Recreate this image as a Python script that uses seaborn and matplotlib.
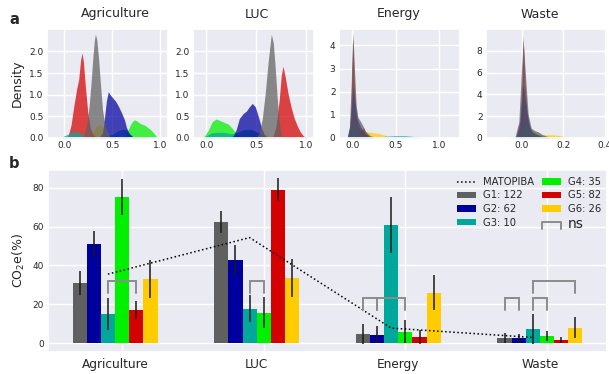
import numpy as np
import pandas as pd
import matplotlib
matplotlib.use("Agg")
import matplotlib.pyplot as plt
import matplotlib.transforms as mtransforms
from matplotlib.lines import Line2D
from matplotlib.legend_handler import HandlerBase
import seaborn as sns

# ---------------- data ----------------
sectors = ["Agriculture", "LUC", "Energy", "Waste"]
groups = ["G1", "G2", "G3", "G4", "G5", "G6"]
group_n = [122, 62, 10, 35, 82, 26]
group_colors = ["#606060", "#00009e", "#00a89c", "#00f000", "#d50000", "#ffcc00"]

# mean CO2e share (%) per sector for each group
g1_mean = [31.0, 62.4, 4.8, 2.7]
g2_mean = [51.0, 42.8, 4.3, 2.4]
g3_mean = [15.0, 17.6, 60.8, 7.3]
g4_mean = [75.2, 15.6, 5.8, 3.8]
g5_mean = [17.1, 79.0, 3.2, 1.7]
g6_mean = [33.0, 33.6, 26.0, 7.9]
# error half-widths
g1_err = [6.0, 5.6, 5.2, 2.6]
g2_err = [6.6, 7.9, 4.4, 2.4]
g3_err = [8.3, 6.9, 14.3, 7.7]
g4_err = [9.3, 8.0, 6.0, 2.6]
g5_err = [4.7, 5.9, 3.7, 1.6]
g6_err = [10.0, 9.9, 8.8, 5.3]
matopiba = [35.5, 54.3, 7.7, 2.9]

# "ns" brackets: sector index, group a, group b, top value
br_sector = [0, 1, 2, 2, 3, 3, 3]
br_a = ["G3", "G3", "G1", "G2", "G1", "G3", "G3"]
br_b = ["G5", "G4", "G2", "G4", "G2", "G4", "G6"]
br_top = [32, 32, 23, 23, 23, 23, 32]

# density curves (x, density)
agri_G1 = [(0.18, 0), (0.21, 0.08), (0.24, 0.38), (0.26, 0.75), (0.28, 1.28), (0.30, 1.9), (0.315, 2.27),
           (0.325, 2.4), (0.34, 2.28), (0.36, 1.8), (0.38, 1.2), (0.40, 0.65), (0.43, 0.25), (0.47, 0.05), (0.5, 0)]
agri_G2 = [(0.36, 0), (0.40, 0.12), (0.42, 0.45), (0.44, 0.85), (0.46, 1.07), (0.48, 1.0), (0.51, 0.92),
           (0.54, 0.84), (0.57, 0.72), (0.60, 0.58), (0.63, 0.42), (0.65, 0.25), (0.68, 0.1), (0.72, 0.02), (0.75, 0)]
agri_G3 = [(-0.1, 0), (-0.03, 0.02), (0.03, 0.08), (0.08, 0.14), (0.12, 0.16), (0.16, 0.12), (0.2, 0.07),
           (0.25, 0.04), (0.3, 0.03), (0.4, 0.03), (0.5, 0.08), (0.55, 0.15), (0.6, 0.2), (0.64, 0.2),
           (0.68, 0.12), (0.72, 0.03), (0.78, 0)]
agri_G4 = [(0.58, 0), (0.63, 0.04), (0.66, 0.15), (0.69, 0.3), (0.72, 0.4), (0.74, 0.42), (0.77, 0.38),
           (0.80, 0.33), (0.84, 0.3), (0.87, 0.25), (0.90, 0.2), (0.93, 0.13), (0.96, 0.05), (0.99, 0)]
agri_G5 = [(0.0, 0), (0.04, 0.05), (0.07, 0.3), (0.1, 0.75), (0.13, 1.15), (0.15, 1.35), (0.17, 1.8),
           (0.186, 1.97), (0.2, 1.75), (0.22, 1.2), (0.245, 0.6), (0.27, 0.25), (0.3, 0.08), (0.34, 0)]
agri_G6 = [(0.2, 0), (0.26, 0.05), (0.3, 0.15), (0.34, 0.28), (0.37, 0.33), (0.4, 0.25), (0.43, 0.1),
           (0.47, 0.02), (0.5, 0)]

luc_G1 = [(0.50, 0), (0.53, 0.12), (0.56, 0.45), (0.59, 1.05), (0.62, 1.8), (0.65, 2.4), (0.67, 2.2),
          (0.69, 1.6), (0.71, 0.9), (0.73, 0.35), (0.75, 0.08), (0.78, 0)]
luc_G2 = [(0.22, 0), (0.27, 0.05), (0.30, 0.2), (0.33, 0.45), (0.37, 0.57), (0.40, 0.62), (0.43, 0.72),
          (0.46, 0.8), (0.49, 0.72), (0.52, 0.5), (0.55, 0.25), (0.58, 0.08), (0.62, 0)]
luc_G3 = [(-0.05, 0), (0.0, 0.05), (0.05, 0.12), (0.1, 0.13), (0.18, 0.13), (0.25, 0.1), (0.3, 0.12),
          (0.38, 0.2), (0.45, 0.2), (0.52, 0.12), (0.58, 0.03), (0.62, 0)]
luc_G4 = [(-0.06, 0), (-0.02, 0.04), (0.02, 0.18), (0.06, 0.38), (0.1, 0.44), (0.14, 0.4), (0.18, 0.36),
          (0.22, 0.32), (0.26, 0.22), (0.3, 0.1), (0.34, 0.03), (0.38, 0)]
luc_G5 = [(0.62, 0), (0.67, 0.05), (0.70, 0.3), (0.73, 0.9), (0.75, 1.45), (0.767, 1.66), (0.79, 1.4),
          (0.82, 1.0), (0.85, 0.7), (0.88, 0.45), (0.91, 0.28), (0.94, 0.14), (0.97, 0.05), (1.0, 0)]
luc_G6 = [(0.2, 0), (0.28, 0.05), (0.35, 0.12), (0.45, 0.15), (0.55, 0.12), (0.62, 0.06), (0.7, 0)]

energy_G1 = [(-0.06, 0), (-0.035, 0.3), (-0.015, 2.0), (0.0, 4.0), (0.008, 4.5), (0.025, 3.0), (0.045, 1.4),
             (0.065, 0.9), (0.09, 0.75), (0.12, 0.55), (0.15, 0.3), (0.2, 0.12), (0.25, 0.04), (0.3, 0)]
energy_G2 = [(-0.06, 0), (-0.03, 0.5), (0.0, 1.8), (0.01, 2.2), (0.03, 1.6), (0.06, 0.8), (0.1, 0.45),
             (0.15, 0.2), (0.2, 0.05), (0.25, 0)]
energy_G3 = [(0.1, 0), (0.2, 0.03), (0.3, 0.05), (0.4, 0.08), (0.5, 0.1), (0.6, 0.1), (0.7, 0.07),
             (0.8, 0.03), (0.9, 0.01), (0.95, 0)]
energy_G4 = [(-0.08, 0), (-0.04, 0.1), (0.0, 0.6), (0.03, 0.6), (0.06, 0.3), (0.1, 0.15), (0.15, 0.08), (0.2, 0)]
energy_G5 = [(-0.05, 0), (-0.02, 0.6), (-0.005, 3.0), (0.008, 4.3), (0.022, 2.5), (0.04, 1.0), (0.07, 0.5),
             (0.1, 0.3), (0.13, 0.45), (0.16, 0.2), (0.2, 0.05), (0.25, 0)]
energy_G6 = [(-0.05, 0), (0.0, 0.4), (0.05, 0.5), (0.1, 0.35), (0.15, 0.28), (0.2, 0.25), (0.25, 0.22),
             (0.3, 0.2), (0.35, 0.15), (0.4, 0.08), (0.45, 0.03), (0.5, 0)]

waste_G1 = [(-0.035, 0), (-0.015, 1.5), (-0.003, 6.0), (0.006, 9.0), (0.018, 5.5), (0.03, 2.2),
            (0.045, 0.9), (0.06, 0.7), (0.08, 0.55), (0.1, 0.3), (0.13, 0.1), (0.16, 0)]
waste_G2 = [(-0.03, 0), (-0.01, 1.5), (0.005, 4.9), (0.02, 3.0), (0.035, 1.2), (0.05, 0.5), (0.07, 0.3),
            (0.1, 0.1), (0.13, 0)]
waste_G3 = [(-0.08, 0), (-0.05, 0.05), (0.0, 0.3), (0.03, 0.4), (0.06, 0.2), (0.1, 0.1), (0.15, 0.03), (0.2, 0)]
waste_G4 = [(-0.02, 0), (0.0, 0.5), (0.02, 1.5), (0.035, 1.0), (0.05, 0.6), (0.07, 0.4), (0.1, 0.2),
            (0.13, 0.05), (0.15, 0)]
waste_G5 = [(-0.03, 0), (-0.01, 1.0), (0.0, 5.0), (0.006, 9.35), (0.015, 5.0), (0.025, 2.0), (0.04, 0.8),
            (0.06, 0.5), (0.08, 0.3), (0.1, 0.1), (0.12, 0)]
waste_G6 = [(-0.02, 0), (0.02, 0.3), (0.06, 0.3), (0.1, 0.3), (0.14, 0.3), (0.18, 0.25), (0.21, 0.1), (0.23, 0)]

panel_xticks = [[0.0, 0.5, 1.0], [0.0, 0.5, 1.0], [0.0, 0.5, 1.0], [0.0, 0.2, 0.4]]
panel_yticks = [[0.0, 0.5, 1.0, 1.5, 2.0], [0.0, 0.5, 1.0, 1.5, 2.0], [0, 1, 2, 3, 4], [0, 2, 4, 6, 8]]

# ---------------- style ----------------
sns.set_theme(style="darkgrid")
plt.rcParams["font.family"] = ["DejaVu Sans", "Noto Sans"]
plt.rcParams["grid.linewidth"] = 1.0

W, H = 609, 374
fig = plt.figure(figsize=(W / 100, H / 100), dpi=100)


def rect(l, t, r, b):
    return [l / W, 1 - b / H, (r - l) / W, (b - t) / H]


top_boxes = [(47, 29, 167.5, 138), (193, 29, 314, 138), (339, 29, 460, 138), (486, 29, 607, 138)]
top_xlims = [(-0.182, 1.081), (-0.133, 1.077), (-0.153, 1.242), (-0.174, 0.412)]
top_ylims = [(0, 2.52), (0, 2.52), (0, 4.71), (0, 10.0)]
panel_curves = [
    [agri_G1, agri_G2, agri_G3, agri_G4, agri_G5, agri_G6],
    [luc_G1, luc_G2, luc_G3, luc_G4, luc_G5, luc_G6],
    [energy_G1, energy_G2, energy_G3, energy_G4, energy_G5, energy_G6],
    [waste_G1, waste_G2, waste_G3, waste_G4, waste_G5, waste_G6],
]

for k in range(4):
    ax = fig.add_axes(rect(*top_boxes[k]))
    # draw last group first so that G1 ends on top
    for curve, col in list(zip(panel_curves[k], group_colors))[::-1]:
        xs = [p[0] for p in curve]
        ys = [p[1] for p in curve]
        ax.fill_between(xs, 0, ys, color=col, alpha=0.72, linewidth=0)
    ax.set_xlim(*top_xlims[k])
    ax.set_ylim(*top_ylims[k])
    ax.set_xticks(panel_xticks[k])
    ax.set_yticks(panel_yticks[k])
    ax.tick_params(labelsize=6.5, pad=2.5, length=0)
    if k == 0:
        ax.set_ylabel("Density", fontsize=9, labelpad=4)

# ---------------- bar chart ----------------
means = [g1_mean, g2_mean, g3_mean, g4_mean, g5_mean, g6_mean]
errs = [g1_err, g2_err, g3_err, g4_err, g5_err, g6_err]
df = pd.DataFrame({
    "sector": sectors * len(groups),
    "group": [g for g in groups for _ in sectors],
    "value": [v for m in means for v in m],
})

axb = fig.add_axes(rect(48, 170, 607, 352))
sns.barplot(data=df, x="sector", y="value", hue="group", order=sectors, hue_order=groups,
            palette=group_colors, width=0.6, gap=0, saturation=1, errorbar=None,
            linewidth=0, legend=False, ax=axb)

centers = []
for cont, e_list in zip(axb.containers, errs):
    cx = []
    for bar, e in zip(cont, e_list):
        x = bar.get_x() + bar.get_width() / 2
        h = bar.get_height()
        cx.append(x)
        axb.vlines(x, h - e, h + e, color="#1a1a1a", lw=1.1, zorder=4)
    centers.append(cx)

# MATOPIBA dotted line through G3 bar centres
axb.plot(centers[2], matopiba, ls=":", color="black", lw=1.1, zorder=5)

# ns brackets
leg_len = 6
for s, a, b, top in zip(br_sector, br_a, br_b, br_top):
    xa = centers[groups.index(a)][s]
    xb = centers[groups.index(b)][s]
    axb.plot([xa, xa, xb, xb], [top - leg_len, top, top, top - leg_len],
             color="#8c8c8c", lw=1.4, zorder=6, solid_joinstyle="miter")

axb.set_xlim(-0.473, 3.473)
axb.set_ylim(-4.6, 89.1)
axb.set_yticks([0, 20, 40, 60, 80])
axb.set_xticks(np.arange(4) + 0.05, minor=True)
axb.grid(False, axis="x", which="major")
axb.grid(True, axis="x", which="minor", color="white", lw=1.0)
axb.tick_params(axis="x", which="both", length=0, labelsize=8.7, pad=4)
axb.tick_params(axis="y", labelsize=6.5, pad=3, length=0)
axb.set_xlabel("")
axb.set_ylabel("CO$_2$e(%)", fontsize=9, labelpad=4)


class BracketHandler(HandlerBase):
    def create_artists(self, legend, orig_handle, xdescent, ydescent, width, height, fontsize, trans):
        x0 = -xdescent
        x1 = -xdescent + width
        y0 = -ydescent - 0.1 * height
        y1 = -ydescent + height
        ln = Line2D([x0, x0, x1, x1], [y0, y1, y1, y0], color="#8c8c8c", lw=1.4, transform=trans)
        return [ln]


line_h = Line2D([], [], ls=":", color="black", lw=1.1)
patch_h = [plt.Rectangle((0, 0), 1, 1, color=c, lw=0) for c in group_colors]
bracket_h = Line2D([], [])
handles = [line_h] + patch_h + [bracket_h]
labels = ["MATOPIBA"] + [f"{g}: {n}" for g, n in zip(groups, group_n)] + ["ns"]
leg = axb.legend(handles, labels, ncol=2, frameon=False, loc="upper left",
                 bbox_to_anchor=(457 / W, 1 - 177 / H), bbox_transform=fig.transFigure,
                 fontsize=7.2, handlelength=1.9, handleheight=0.65, handletextpad=0.7,
                 columnspacing=0.8, labelspacing=0.35, borderpad=0, borderaxespad=0,
                 handler_map={bracket_h: BracketHandler()})
leg.get_texts()[-1].set_fontsize(10)

# titles above panel a, aligned with bar-group centres
tr = mtransforms.blended_transform_factory(axb.transData, fig.transFigure)
for i, s in enumerate(sectors):
    fig.text(i, 1 - 14 / H, s, transform=tr, ha="center", va="center", fontsize=9, color="#262626")

fig.text(9 / W, 1 - 20 / H, "a", fontsize=10.5, fontweight="bold", va="center", ha="left")
fig.text(9 / W, 1 - 164 / H, "b", fontsize=10.5, fontweight="bold", va="center", ha="left")

fig.savefig("out.png", dpi=100)
